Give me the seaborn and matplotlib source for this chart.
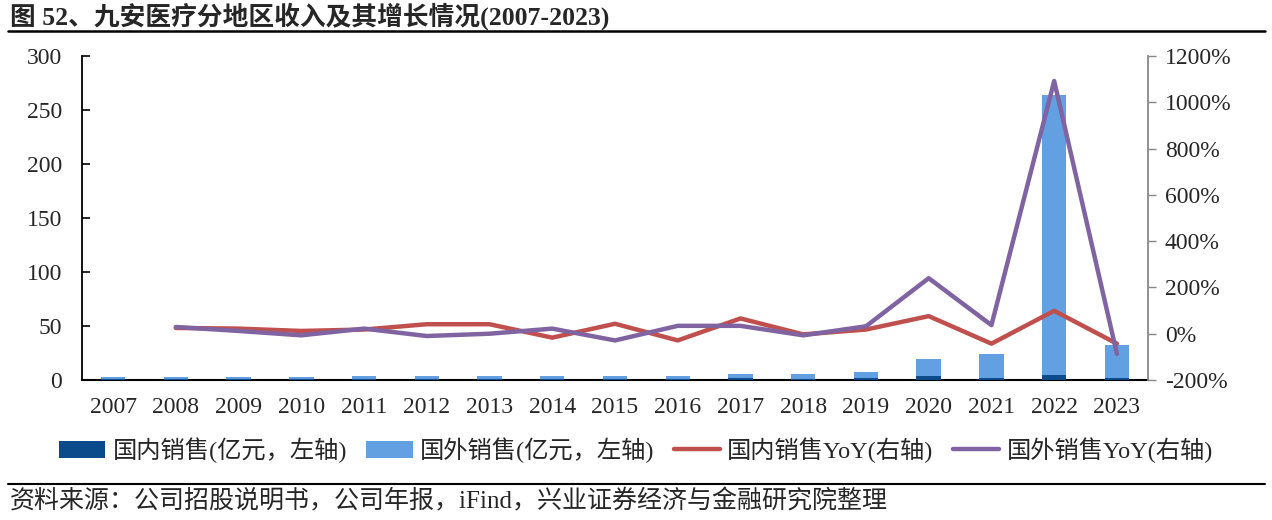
import numpy as np
import pandas as pd
import matplotlib
matplotlib.use("Agg")
import matplotlib.pyplot as plt
import seaborn as sns
from matplotlib.patches import Patch
from matplotlib.lines import Line2D

years = ["2007", "2008", "2009", "2010", "2011", "2012", "2013", "2014", "2015",
         "2016", "2017", "2018", "2019", "2020", "2021", "2022", "2023"]
domestic = [0.8, 0.8, 0.8, 0.8, 1.0, 1.0, 1.0, 0.8, 1.0, 0.8, 1.5, 1.2, 1.5, 3.3, 2.0, 4.6, 2.0]
foreign = [1.7, 1.7, 1.7, 1.7, 2.5, 2.5, 2.5, 2.7, 2.5, 2.7, 4.5, 4.3, 5.5, 16.2, 22.0, 259.4, 30.0]
domestic_yoy = [np.nan, 25, 22, 12, 18, 41, 41, -17, 43, -29, 66, -3, 18, 76, -43, 99, -43]
foreign_yoy = [np.nan, 29, 12, -7, 22, -10, 0, 22, -29, 34, 34, -7, 32, 240, 37, 1092, -87]

left_ticks = [0, 50, 100, 150, 200, 250, 300]
right_ticks = [-200, 0, 200, 400, 600, 800, 1000, 1200]

title = "图 52、九安医疗分地区收入及其增长情况(2007-2023)"
source = "资料来源：公司招股说明书，公司年报，iFind，兴业证券经济与金融研究院整理"
labels = ["国内销售(亿元，左轴)", "国外销售(亿元，左轴)", "国内销售YoY(右轴)", "国外销售YoY(右轴)"]

c_dom = "#0B4A8B"
c_for = "#62A0E2"
c_red = "#C0504D"
c_pur = "#8064A2"

sns.set_theme(style="white")
FAM = ["Liberation Serif", "Noto Sans CJK SC"]
plt.rcParams["font.family"] = FAM

df = pd.DataFrame({"year": years, "domestic": domestic, "foreign": foreign,
                   "dyoy": domestic_yoy, "fyoy": foreign_yoy})
df["total"] = df["domestic"] + df["foreign"]
df["pos"] = np.arange(len(df))

fig = plt.figure(figsize=(12.72, 5.2), dpi=100)
ax = fig.add_axes([81.7 / 1272, 140 / 520, (1148.3 - 81.7) / 1272, 324 / 520])

sns.barplot(data=df, x="year", y="total", color=c_for, saturation=1, width=0.39, ax=ax,
            zorder=2, linewidth=0, edgecolor="none")
sns.barplot(data=df, x="year", y="domestic", color=c_dom, saturation=1, width=0.39, ax=ax,
            zorder=3, linewidth=0, edgecolor="none")

ax.set_ylim(0, 300)
ax.set_xlim(-0.5, len(years) - 0.5)
ax.set_yticks(left_ticks)
ax.set_yticklabels([str(t) for t in left_ticks])
ax.set_xlabel("")
ax.set_ylabel("")
ax.tick_params(axis="y", direction="in", length=6, width=1.2, color="black", labelsize=17, pad=14, left=True)
ax.tick_params(axis="x", length=0, labelsize=17, pad=12)
for s in ["top", "right"]:
    ax.spines[s].set_visible(False)
ax.spines["left"].set_color("black")
ax.spines["left"].set_linewidth(1.3)
ax.spines["bottom"].set_color("black")
ax.spines["bottom"].set_linewidth(1.5)

ax2 = ax.twinx()
d1 = df.dropna(subset=["dyoy"])
sns.lineplot(data=d1, x="pos", y="dyoy", color=c_red, linewidth=3.2, ax=ax2, zorder=4)
sns.lineplot(data=d1, x="pos", y="fyoy", color=c_pur, linewidth=3.2, ax=ax2, zorder=5)
ax2.set_ylim(-200, 1200)
ax2.set_xlim(-0.5, len(years) - 0.5)
ax2.set_yticks(right_ticks)
ax2.set_yticklabels([f"{t}%" for t in right_ticks])
ax2.set_xlabel("")
ax2.set_ylabel("")
ax2.tick_params(axis="y", direction="out", length=6, width=1.0, color="#888888", labelsize=17, pad=6, right=True)
for s in ["top", "left", "bottom"]:
    ax2.spines[s].set_visible(False)
ax2.spines["right"].set_color("#888888")
ax2.spines["right"].set_linewidth(1.3)
ax2.grid(False)
ax.grid(False)

handles = [Patch(facecolor=c_dom, edgecolor="none"),
           Patch(facecolor=c_for, edgecolor="none"),
           Line2D([0], [0], color=c_red, linewidth=3.2),
           Line2D([0], [0], color=c_pur, linewidth=3.2)]
fig.legend(handles, labels, loc="center", bbox_to_anchor=(0.5, 1 - 450 / 520), ncol=4,
           frameon=False, handlelength=1.9, handletextpad=0.3, columnspacing=0.8,
           prop={"family": FAM, "size": 17.5})

fig.text(10 / 1272, 1 - 16 / 520, title, fontsize=18.5, fontweight="bold", ha="left", va="center",
         family=FAM)
fig.add_artist(Line2D([8 / 1272, 1265 / 1272], [1 - 31 / 520, 1 - 31 / 520], color="black", linewidth=1.8))
fig.add_artist(Line2D([8 / 1272, 1265 / 1272], [1 - 484 / 520, 1 - 484 / 520], color="black", linewidth=1.5))
fig.text(10 / 1272, 1 - 501 / 520, source, fontsize=18, ha="left", va="center", family=FAM)

fig.savefig("out.png", dpi=100)
